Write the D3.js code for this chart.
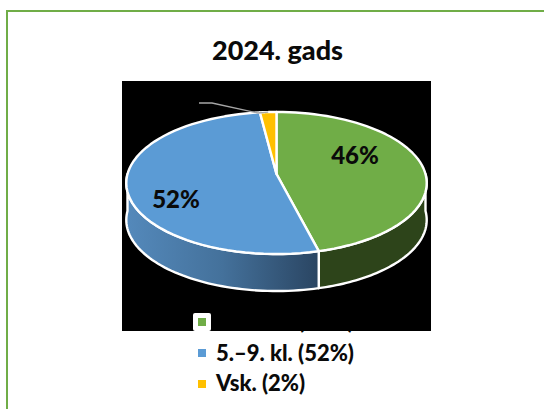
<!DOCTYPE html>
<html><head><meta charset="utf-8">
<script src="https://cdn.jsdelivr.net/npm/d3@7"></script>
<style>html,body{margin:0;padding:0;background:#fff}svg{display:block}text{font-family:Lato,Carlito,sans-serif;font-weight:900;fill:#0a0a0a}</style>
</head><body><svg id="c" width="544" height="409"></svg>
<script>
const categories=["1.–4. kl.","5.–9. kl.","Vsk."];
const values=[46,52,2];
const colors=["#70ad47","#5b9bd5","#ffc000"];
const titleText="2024. gads";
const cx=276.5,cy=174,A=149,B=69.9,k=0.1268,depth=37;
const svg=d3.select("#c");
const defs=svg.append("defs");
const grad=defs.append("linearGradient").attr("id","wall").attr("gradientUnits","userSpaceOnUse").attr("x1",126).attr("x2",319).attr("y1",0).attr("y2",0);
grad.append("stop").attr("offset",0).attr("stop-color","#5489bb");
grad.append("stop").attr("offset",.5).attr("stop-color","#44719b");
grad.append("stop").attr("offset",1).attr("stop-color","#2a4562");

// frame: its right and bottom edges lie outside the crop
svg.append("rect").attr("x",7).attr("y",11).attr("width",560).attr("height",430).attr("fill","#fff").attr("stroke","#70ad47").attr("stroke-width",2);
svg.append("text").attr("x",277.5).attr("y",60).attr("text-anchor","middle").attr("font-size",27).text(titleText);

// legend row hidden behind the plot
const lx=216,ly=[328.5,360.5,391];
svg.append("text").attr("x",lx).attr("y",ly[0]).attr("font-size",22).text(`${categories[0]} (${values[0]}%)`);
svg.append("rect").attr("x",122).attr("y",81).attr("width",309).attr("height",250).attr("fill","#000");

const proj=a=>{const u=Math.sin(a),v=-Math.cos(a),w=1-k*v;return [cx+A*u/w,cy+B*v/w];};
const arcs=d3.pie().sort(null)(values);
const line=d3.line();
const rim=(a0,a1)=>d3.range(0,61).map(i=>proj(a0+(a1-a0)*i/60));

const wall=svg.append("g");
arcs.forEach((d,i)=>{
  const a0=Math.max(d.startAngle,Math.PI/2),a1=Math.min(d.endAngle,Math.PI*1.5);
  if(a1<=a0)return;
  const top=rim(a0,a1),bot=top.map(p=>[p[0],p[1]+depth]).reverse();
  wall.append("path").attr("d",line(top.concat(bot))+"Z")
    .attr("fill",i===0?"#2d441a":"url(#wall)")
    .attr("stroke","#fff").attr("stroke-width",2.4).attr("stroke-linejoin","round");
});
const face=svg.append("g");
arcs.forEach((d,i)=>{
  face.append("path").attr("d",line([[cx,cy],...rim(d.startAngle,d.endAngle)])+"Z")
    .attr("fill",colors[i]).attr("stroke","#fff").attr("stroke-width",2.4).attr("stroke-linejoin","round");
});
const mid=proj((arcs[2].startAngle+arcs[2].endAngle)/2);
svg.append("path").attr("d",line([[199,103],[212,103],[258,113],[mid[0],mid[1]]])).attr("fill","none").attr("stroke","#a6a6a6").attr("stroke-width",1.3);

const labelPos=[[355,164],[176,208]];
values.slice(0,2).forEach((v,i)=>svg.append("text").attr("x",labelPos[i][0]).attr("y",labelPos[i][1]).attr("text-anchor","middle").attr("font-size",24).text(v+"%"));

svg.append("rect").attr("x",193).attr("y",313).attr("width",18).attr("height",18).attr("rx",2).attr("fill","#fff");
categories.forEach((c,i)=>{
  svg.append("rect").attr("x",198).attr("y",318+31*i).attr("width",8).attr("height",8).attr("fill",colors[i]);
  if(i>0)svg.append("text").attr("x",lx).attr("y",ly[i]).attr("font-size",22).text(`${c} (${values[i]}%)`);
});
</script></body></html>
